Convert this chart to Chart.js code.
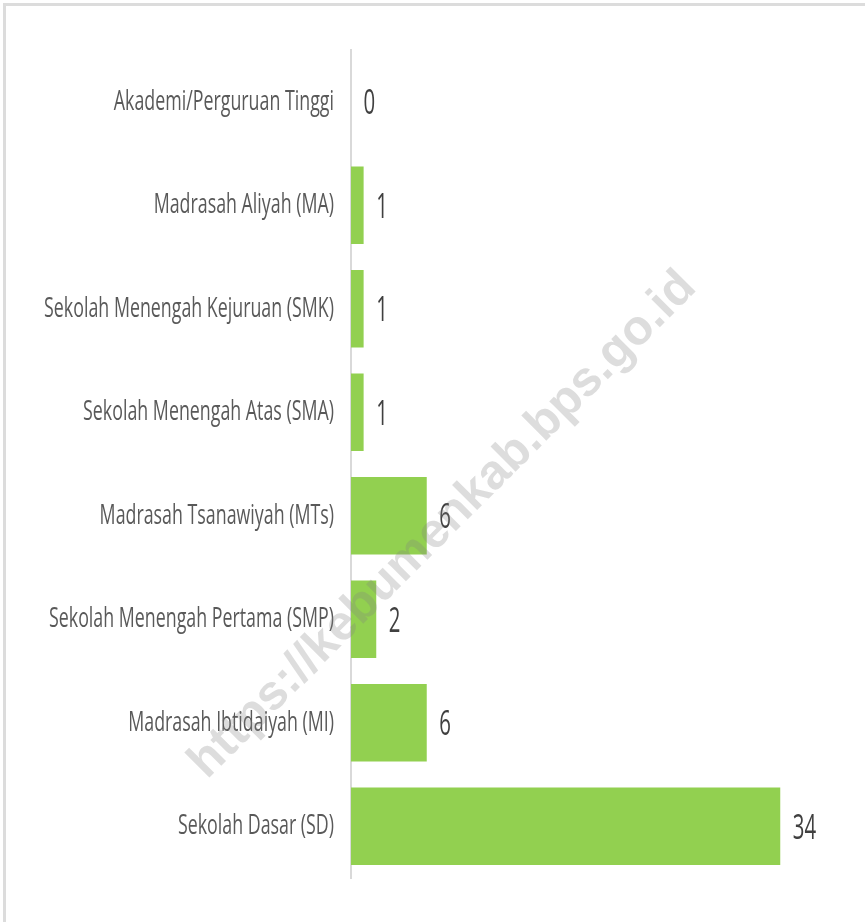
<!DOCTYPE html>
<html>
<head>
<meta charset="utf-8">
<script src="https://cdn.jsdelivr.net/npm/chart.js@4"></script>
<style>
  html, body { margin: 0; padding: 0; background: #fff; }
  #wrap { position: relative; width: 865px; height: 922px; overflow: hidden; }
  #frame { position: absolute; top: 3px; left: 3px; right: 0; bottom: 0;
           border-top: 3px solid #dcdcdc; border-left: 3px solid #dcdcdc; pointer-events: none; }
  canvas { position: absolute; top: 0; left: 0; }
</style>
</head>
<body>
<div id="wrap">
  <canvas id="c" width="865" height="922"></canvas>
  <div id="frame"></div>
</div>
<script>
const categories = [
  "Akademi/Perguruan Tinggi",
  "Madrasah Aliyah (MA)",
  "Sekolah Menengah Kejuruan (SMK)",
  "Sekolah Menengah Atas (SMA)",
  "Madrasah Tsanawiyah (MTs)",
  "Sekolah Menengah Pertama (SMP)",
  "Madrasah Ibtidaiyah (MI)",
  "Sekolah Dasar (SD)"
];
const values = [0, 1, 1, 1, 6, 2, 6, 34];
const watermarkText = "https://kebumenkab.bps.go.id";

const FONT = "'Open Sans', 'Noto Sans', sans-serif";
const SX_LABEL = 0.636; // horizontal condensing of category text
const SX_VALUE = 0.6;   // horizontal condensing of value text

// category labels drawn condensed at the y-scale's tick positions
const condensedLabels = {
  id: 'condensedLabels',
  afterDraw(chart) {
    const ctx = chart.ctx;
    const y = chart.scales.y;
    const xr = chart.chartArea.left - 17;
    ctx.save();
    ctx.font = "28px " + FONT;
    ctx.fillStyle = "#595959";
    ctx.textAlign = "right";
    ctx.textBaseline = "alphabetic";
    y.ticks.forEach((t, i) => {
      const py = y.getPixelForTick(i);
      ctx.save();
      ctx.translate(xr, py + 8);
      ctx.scale(SX_LABEL, 1);
      ctx.fillText(categories[i], 0, 0);
      ctx.restore();
    });
    ctx.restore();
  }
};

const valueLabels = {
  id: 'valueLabels',
  afterDatasetsDraw(chart) {
    const ctx = chart.ctx;
    const meta = chart.getDatasetMeta(0);
    ctx.save();
    ctx.font = "34px " + FONT;
    ctx.fillStyle = "#404040";
    ctx.textAlign = "left";
    ctx.textBaseline = "alphabetic";
    meta.data.forEach((bar, i) => {
      ctx.save();
      ctx.translate(bar.x + 12.5, bar.y + 12.5);
      ctx.scale(SX_VALUE, 1);
      ctx.fillText(String(values[i]), 0, 0);
      ctx.restore();
    });
    ctx.restore();
  }
};

const watermark = {
  id: 'watermark',
  afterDraw(chart) {
    const ctx = chart.ctx;
    ctx.save();
    ctx.translate(443, 525);
    ctx.rotate(-Math.PI / 4);
    ctx.font = "bold 49px 'Liberation Sans', Arial, sans-serif";
    ctx.fillStyle = "rgba(128,128,128,0.27)";
    ctx.textAlign = "center";
    ctx.textBaseline = "middle";
    ctx.fillText(watermarkText, 0, 0);
    ctx.restore();
  }
};

new Chart(document.getElementById('c'), {
  type: 'bar',
  data: {
    labels: categories,
    datasets: [{
      data: values,
      backgroundColor: '#92d050',
      borderWidth: 0,
      barPercentage: 0.75,
      categoryPercentage: 1.0
    }]
  },
  options: {
    indexAxis: 'y',
    responsive: false,
    animation: false,
    layout: { padding: { top: 50, bottom: 44, right: 9, left: 0 } },
    plugins: { legend: { display: false }, tooltip: { enabled: false } },
    scales: {
      x: {
        min: 0, max: 40,
        display: false,
        grid: { display: false }
      },
      y: {
        grid: { display: false, drawTicks: false },
        border: { display: true, color: '#d9d9d9', width: 2 },
        ticks: {
          color: 'rgba(0,0,0,0)',
          padding: 17,
          font: { family: FONT, size: 14 }
        },
        afterFit(scale) { scale.width = 351; }
      }
    }
  },
  plugins: [valueLabels, condensedLabels, watermark]
});
</script>
</body>
</html>
